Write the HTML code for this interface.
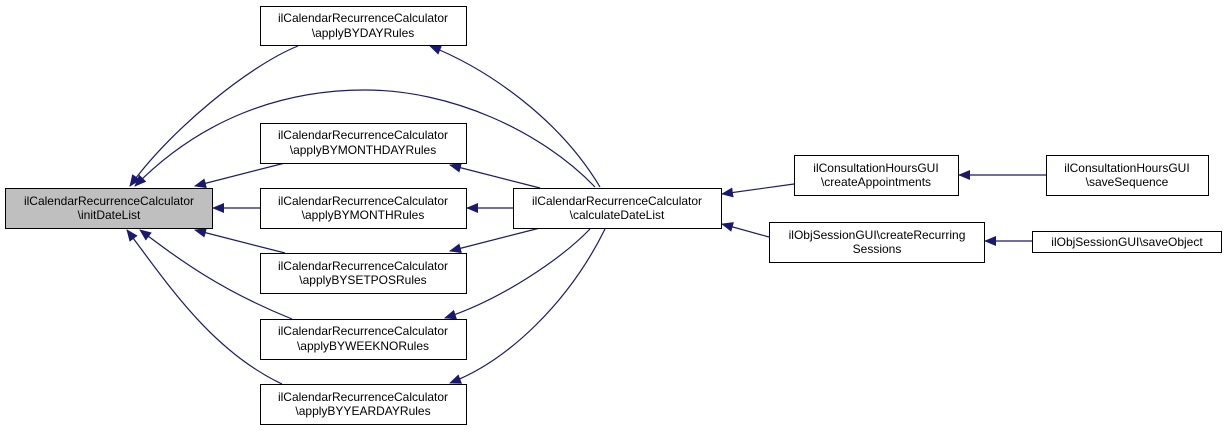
<!DOCTYPE html>
<html><head><meta charset="utf-8"><style>
body{margin:0;background:#fff;}
svg text{font-family:"Liberation Sans",sans-serif;font-size:12px;fill:#000;text-anchor:middle;}
</style></head><body>
<svg width="1227" height="431" viewBox="0 0 1227 431" xmlns="http://www.w3.org/2000/svg">
<defs><marker id="a" markerWidth="12" markerHeight="10" refX="11" refY="5" orient="auto" markerUnits="userSpaceOnUse"><path d="M0,0 L12,5 L0,10 z" fill="#191970"/></marker></defs>
<g fill="none" stroke="#191970" stroke-width="1.2" marker-end="url(#a)">
<path d="M298,46 C250,65 170,130 130,186"/>
<path d="M595,187 C540,130 450,90 365,90 C280,90 200,120 135,186"/>
<path d="M285,163 L195,186"/>
<path d="M260,208 L213,208"/>
<path d="M285,253 L195,230"/>
<path d="M292,319 C220,290 180,260 140,230"/>
<path d="M282,384 C210,350 165,280 127,230"/>
<path d="M600,187 C560,120 490,70 430,46"/>
<path d="M540,188 L450,165"/>
<path d="M513,208 L467,208"/>
<path d="M540,228 L450,251"/>
<path d="M590,229 C560,260 500,300 445,318"/>
<path d="M605,229 C570,300 510,360 450,383"/>
<path d="M794,184 L722,194"/>
<path d="M769,237 L722,224"/>
<path d="M1046,175 L959,175"/>
<path d="M1032,241 L985,241"/>
</g>
<g stroke="#000" stroke-width="1">
<rect x="5.5" y="188.5" width="207" height="40" fill="#bfbfbf"/>
<rect x="260.5" y="6.5" width="206" height="39" fill="#fff"/>
<rect x="260.5" y="123.5" width="206" height="40" fill="#fff"/>
<rect x="260.5" y="188.5" width="206" height="40" fill="#fff"/>
<rect x="260.5" y="253.5" width="206" height="40" fill="#fff"/>
<rect x="260.5" y="319.5" width="206" height="40" fill="#fff"/>
<rect x="260.5" y="384.5" width="206" height="40" fill="#fff"/>
<rect x="513.5" y="188.5" width="208" height="40" fill="#fff"/>
<rect x="794.5" y="155.5" width="164" height="40" fill="#fff"/>
<rect x="1046.5" y="155.5" width="162" height="40" fill="#fff"/>
<rect x="769.5" y="222.5" width="215" height="40" fill="#fff"/>
<rect x="1032.5" y="231.5" width="189" height="21" fill="#fff"/>
</g>
<text x="109" y="205">ilCalendarRecurrenceCalculator</text><text x="109" y="219">\initDateList</text>
<text x="363" y="22">ilCalendarRecurrenceCalculator</text><text x="363" y="37">\applyBYDAYRules</text>
<text x="363" y="139">ilCalendarRecurrenceCalculator</text><text x="363" y="154">\applyBYMONTHDAYRules</text>
<text x="363" y="205">ilCalendarRecurrenceCalculator</text><text x="363" y="219">\applyBYMONTHRules</text>
<text x="363" y="270">ilCalendarRecurrenceCalculator</text><text x="363" y="284">\applyBYSETPOSRules</text>
<text x="363" y="335">ilCalendarRecurrenceCalculator</text><text x="363" y="350">\applyBYWEEKNORules</text>
<text x="363" y="401">ilCalendarRecurrenceCalculator</text><text x="363" y="415">\applyBYYEARDAYRules</text>
<text x="617" y="205">ilCalendarRecurrenceCalculator</text><text x="617" y="219">\calculateDateList</text>
<text x="876" y="172">ilConsultationHoursGUI</text><text x="876" y="186">\createAppointments</text>
<text x="1127" y="172">ilConsultationHoursGUI</text><text x="1127" y="186">\saveSequence</text>
<text x="877" y="239">ilObjSessionGUI\createRecurring</text><text x="877" y="253">Sessions</text>
<text x="1127" y="246">ilObjSessionGUI\saveObject</text>
</svg>
</body></html>
